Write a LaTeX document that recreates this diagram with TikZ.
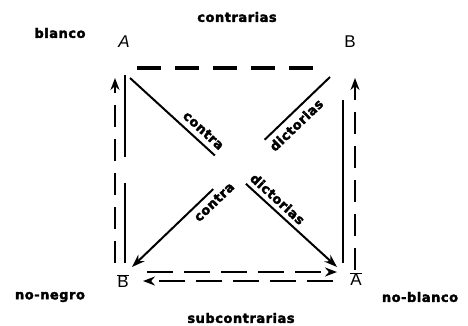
\documentclass[tikz,border=0pt]{standalone}
\usepackage{fontspec}
\newfontfamily\tagfont[LetterSpace=4, FakeBold=2.5]{DejaVu Sans Bold}
\newfontfamily\letterfont{Liberation Sans}
\usetikzlibrary{positioning, arrows.meta}

\begin{document}
\begin{tikzpicture}[x=1pt, y=-1pt,
  every node/.style={inner sep=2pt},
  tag/.style={font=\tagfont\fontsize{13}{15}\selectfont},
  corner/.style={font=\letterfont\fontsize{17}{19}\selectfont},
  stroke/.style={line width=2pt},
  diag/.style={stroke, -{Stealth[length=13pt, width=9pt]}},
  rail/.style={line width=1.4pt},
  side/.style={line width=2.8pt, dash pattern=on 22pt off 12pt},
  headed/.style={-{Stealth[length=12pt, width=9pt]}}
]
\useasboundingbox (0,0) rectangle (468,325);

% letters at the corners
\node[corner] (A)  at (124,42)  {\itshape A};
\node[corner] (B)  at (350,42)  {B};
\node[corner] (Bn) at (123,281) {$\overline{\hbox{B}}$};
\node[corner] (An) at (356,279) {$\overline{\hbox{A}}$};

% words
\node[tag] (top)      at (237,17)  {contrarias};
\node[tag] (white)    at (60,33)   {blanco};
\node[tag] (notblack) at (50,297)  {no-negro};
\node[tag] (notwhite) at (420,297) {no-blanco};
\node[tag] (bottom)   at (241,318) {subcontrarias};

% diagonal ends
\coordinate (tl) at (130,78);
\coordinate (tr) at (330,77);
\coordinate (bl) at (132,267);
\coordinate (br) at (337,267);

% contradictorias, A to no-blanco
\path (tl) -- (br)
  coordinate[pos=0.41] (a1) coordinate[pos=0.56] (a2)
  node[tag, sloped, above=4pt, pos=0.32] (ac) {contra}
  node[tag, sloped, above=3pt, pos=0.68] (ad) {dictorias};
\draw[stroke] (tl) -- (a1);
\draw[diag] (a2) -- (br);

% contradictorias, no-negro to B
\path (bl) -- (tr)
  coordinate[pos=0.41] (b1) coordinate[pos=0.67] (b2)
  node[tag, sloped, below=3pt, pos=0.38] (bc) {contra}
  node[tag, sloped, below=4pt, pos=0.79] (bd) {dictorias};
\draw[stroke] (b2) -- (tr);
\draw[diag] (b1) -- (bl);

% top: contrarias
\coordinate (t0) at (137,68);
\coordinate (t1) at (317,68);
\draw[line width=3.2pt, dash pattern=on 24pt off 14pt] (t0) -- (t1);

% left side
\coordinate (l0) at (115,263);
\coordinate (l1) at (115,78);
\draw[side, headed] (l0) -- (l1);
\coordinate (m0) at (125,75);
\coordinate (m1) at (125,157);
\coordinate (m2) at (125,183);
\coordinate (m3) at (125,263);
\draw[rail] (m0) -- (m1) (m2) -- (m3);

% right side
\coordinate (r0) at (355,270);
\coordinate (r1) at (355,78);
\draw[side, line width=2.4pt, headed] (r0) -- (r1);
\coordinate (n0) at (343,100);
\coordinate (n1) at (343,263);
\draw[rail, line width=1.8pt] (n0) -- (n1);

% bottom: subcontrarias
\coordinate (u0) at (147,272);
\coordinate (u1) at (337,272);
\coordinate (v0) at (333,281);
\coordinate (v1) at (143,281);
\draw[line width=2.4pt, dash pattern=on 26pt off 11pt, headed] (u0) -- (u1);
\draw[line width=2.4pt, dash pattern=on 26pt off 11pt, headed] (v0) -- (v1);
\end{tikzpicture}
\end{document}
